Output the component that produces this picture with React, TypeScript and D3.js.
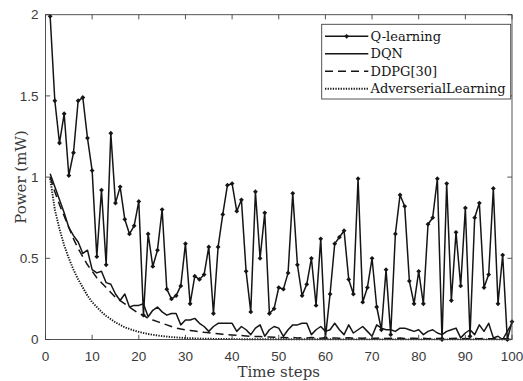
import React from "react";
import * as d3 from "d3";

const steps: number[] = Array.from({ length: 100 }, (_, i) => i + 1);

const qLearning: number[] = [
  1.99, 1.47, 1.21, 1.39, 1.01, 1.15, 1.47, 1.49, 1.24, 1.04,
  0.51, 0.92, 0.46, 1.27, 0.84, 0.94, 0.74, 0.65, 0.70, 0.85,
  0.15, 0.65, 0.45, 0.55, 0.80, 0.31, 0.25, 0.27, 0.33, 0.59,
  0.22, 0.39, 0.37, 0.40, 0.57, 0.16, 0.57, 0.77, 0.95, 0.96,
  0.79, 0.86, 0.42, 0.17, 0.91, 0.50, 0.78, 0.16, 0.19, 0.32,
  0.31, 0.41, 0.90, 0.46, 0.27, 0.34, 0.50, 0.21, 0.62, 0.01,
  0.28, 0.59, 0.63, 0.67, 0.37, 0.28, 0.99, 0.23, 0.32, 0.50,
  0.20, 0.06, 0.43, 0.03, 0.65, 0.89, 0.82, 0.36, 0.22, 0.42,
  0.22, 0.71, 0.75, 0.99, 0.00, 0.96, 0.24, 0.66, 0.33, 0.81,
  0.02, 0.75, 0.84, 0.32, 0.40, 0.93, 0.22, 0.52, 0.00, 0.11,
];

const dqn: number[] = [
  1.02, 0.94, 0.86, 0.78, 0.69, 0.64, 0.60, 0.53, 0.55, 0.43,
  0.41, 0.42, 0.35, 0.34, 0.28, 0.24, 0.28, 0.20, 0.21, 0.21,
  0.22, 0.14, 0.18, 0.20, 0.17, 0.15, 0.16, 0.16, 0.09, 0.12,
  0.12, 0.13, 0.10, 0.08, 0.05, 0.08, 0.10, 0.10, 0.10, 0.10,
  0.05, 0.08, 0.06, 0.03, 0.07, 0.09, 0.02, 0.06, 0.08, 0.07,
  0.02, 0.06, 0.09, 0.09, 0.10, 0.10, 0.03, 0.06, 0.08, 0.05,
  0.06, 0.10, 0.06, 0.03, 0.09, 0.04, 0.06, 0.08, 0.05, 0.02,
  0.09, 0.07, 0.06, 0.06, 0.05, 0.07, 0.07, 0.06, 0.05, 0.06,
  0.03, 0.05, 0.06, 0.04, 0.03, 0.05, 0.06, 0.07, 0.01, 0.04,
  0.06, 0.03, 0.09, 0.05, 0.10, 0.01, 0.02, 0.00, 0.05, 0.10,
];

const ddpg: number[] = [
  1.00, 0.91, 0.83, 0.76, 0.69, 0.62, 0.56, 0.51, 0.46, 0.42,
  0.38, 0.35, 0.32, 0.29, 0.26, 0.24, 0.22, 0.20, 0.18, 0.16,
  0.15, 0.13, 0.12, 0.11, 0.10, 0.09, 0.08, 0.07, 0.065, 0.06,
  0.056, 0.052, 0.048, 0.044, 0.041, 0.038, 0.035, 0.032, 0.030, 0.028,
  0.026, 0.024, 0.022, 0.020, 0.019, 0.018, 0.016, 0.015, 0.014, 0.013,
  0.012, 0.011, 0.013, 0.010, 0.011, 0.009, 0.012, 0.010, 0.008, 0.011,
  0.009, 0.010, 0.008, 0.009, 0.011, 0.007, 0.009, 0.008, 0.010, 0.007,
  0.008, 0.009, 0.006, 0.008, 0.007, 0.009, 0.006, 0.007, 0.008, 0.006,
  0.007, 0.005, 0.008, 0.006, 0.007, 0.005, 0.006, 0.007, 0.005, 0.006,
  0.004, 0.006, 0.005, 0.007, 0.004, 0.005, 0.006, 0.004, 0.005, 0.004,
];

const adversarial: number[] = [
  0.99, 0.80, 0.68, 0.58, 0.50, 0.43, 0.37, 0.32, 0.27, 0.23,
  0.20, 0.17, 0.145, 0.125, 0.105, 0.09, 0.075, 0.065, 0.055, 0.047,
  0.040, 0.034, 0.029, 0.025, 0.021, 0.018, 0.015, 0.013, 0.011, 0.009,
  0.008, 0.007, 0.006, 0.005, 0.0045, 0.004, 0.0035, 0.003, 0.003, 0.0025,
  0.0025, 0.002, 0.002, 0.002, 0.002, 0.0018, 0.0018, 0.0016, 0.0016, 0.0015,
  0.0015, 0.0014, 0.0014, 0.0013, 0.0013, 0.0012, 0.0012, 0.0012, 0.0011, 0.0011,
  0.0011, 0.001, 0.001, 0.001, 0.001, 0.001, 0.001, 0.001, 0.001, 0.001,
  0.001, 0.001, 0.001, 0.001, 0.001, 0.001, 0.001, 0.001, 0.001, 0.001,
  0.001, 0.001, 0.001, 0.001, 0.001, 0.001, 0.001, 0.001, 0.001, 0.001,
  0.001, 0.001, 0.001, 0.001, 0.001, 0.001, 0.001, 0.001, 0.001, 0.001,
];

const xTicks: number[] = [0, 10, 20, 30, 40, 50, 60, 70, 80, 90, 100];
const yTicks: number[] = [0, 0.5, 1, 1.5, 2];
const yTickLabels: string[] = ["0", "0.5", "1", "1.5", "2"];
const seriesNames: string[] = ["Q-learning", "DQN", "DDPG[30]", "AdverserialLearning"];

const W = 523;
const H = 381;
const L = 45.5;
const R = 512;
const T = 14.7;
const B = 339.5;

export default function App() {
  const x = d3.scaleLinear().domain([0, 100]).range([L, R]);
  const y = d3.scaleLinear().domain([0, 2]).range([B, T]);
  const line = (vals: number[]) =>
    d3.line<number>().x((_, i) => x(steps[i])).y((v) => y(v))(vals) || "";

  const ink = "#151515";
  const axisC = "#404040";
  const tickC = "#3a3a3a";
  const diamond = (cx: number, cy: number, s = 2.4) =>
    `M${cx},${cy - s}L${cx + s},${cy}L${cx},${cy + s}L${cx - s},${cy}Z`;

  const legendX0 = 325;
  const legendX1 = 368.3;
  const legendRows = [36.3, 53.8, 71.3, 88.8];
  const styles = [
    { dash: undefined as string | undefined, w: 1.5 },
    { dash: undefined as string | undefined, w: 1.5 },
    { dash: "8,5", w: 1.5 },
    { dash: "1.3,1.3", w: 1.9 },
  ];

  return (
    <svg
      width={W}
      height={H}
      style={{ position: "absolute", left: 0, top: 0, background: "#fff" }}
    >
      <rect x={0} y={0} width={W} height={H} fill="#fff" />
      <defs>
        <clipPath id="plot">
          <rect x={L - 3} y={T - 3} width={R - L + 6} height={B - T + 6} />
        </clipPath>
      </defs>
      <g clipPath="url(#plot)">
        {[adversarial, ddpg, dqn].map((vals, k) => {
          const st = styles[3 - k];
          return (
            <path
              key={k}
              d={line(vals)}
              fill="none"
              stroke={ink}
              strokeWidth={st.w}
              strokeDasharray={st.dash}
              strokeLinejoin="round"
            />
          );
        })}
        <path d={line(qLearning)} fill="none" stroke={ink} strokeWidth={1.5} strokeLinejoin="round" />
        {qLearning.map((v, i) => (
          <path key={i} d={diamond(x(steps[i]), y(v))} fill={ink} />
        ))}
      </g>
      <rect x={L} y={T} width={R - L} height={B - T} fill="none" stroke={axisC} strokeWidth={0.9} />
      {xTicks.map((t) => (
        <g key={"x" + t}>
          <line x1={x(t)} x2={x(t)} y1={B} y2={B - 4.7} stroke={axisC} strokeWidth={0.9} />
          <line x1={x(t)} x2={x(t)} y1={T} y2={T + 4.7} stroke={axisC} strokeWidth={0.9} />
          <text
            x={x(t)}
            y={360.5}
            textAnchor="middle"
            fontFamily="'Liberation Sans', Arial, sans-serif"
            fontSize={13.5}
            fill={tickC}
          >
            {t}
          </text>
        </g>
      ))}
      {yTicks.map((t, i) => (
        <g key={"y" + t}>
          <line x1={L} x2={L + 4.7} y1={y(t)} y2={y(t)} stroke={axisC} strokeWidth={0.9} />
          <line x1={R} x2={R - 4.7} y1={y(t)} y2={y(t)} stroke={axisC} strokeWidth={0.9} />
          <text
            x={38.5}
            y={y(t) + 4.7}
            textAnchor="end"
            fontFamily="'Liberation Sans', Arial, sans-serif"
            fontSize={13.5}
            fill={tickC}
          >
            {yTickLabels[i]}
          </text>
        </g>
      ))}
      <text
        x={(L + R) / 2}
        y={376.5}
        textAnchor="middle"
        fontFamily="'DejaVu Serif', serif"
        fontSize={15}
        fill={tickC}
      >
        Time steps
      </text>
      <text
        transform={`translate(26,${(T + B) / 2}) rotate(-90)`}
        textAnchor="middle"
        fontFamily="'DejaVu Serif', serif"
        fontSize={15}
        fill={tickC}
      >
        Power (mW)
      </text>
      <rect x={321.7} y={24.3} width={189} height={74.7} fill="#fff" stroke={axisC} strokeWidth={0.9} />
      {seriesNames.map((name, i) => {
        const cy = legendRows[i];
        const st = styles[i];
        return (
          <g key={name}>
            <line
              x1={legendX0}
              x2={legendX1}
              y1={cy}
              y2={cy}
              stroke={ink}
              strokeWidth={st.w}
              strokeDasharray={st.dash}
            />
            {i === 0 && <path d={diamond((legendX0 + legendX1) / 2, cy)} fill={ink} />}
            <text
              x={370.5}
              y={cy + 4.5}
              fontFamily="'DejaVu Serif', serif"
              fontSize={13}
              fill={ink}
            >
              {name}
            </text>
          </g>
        );
      })}
    </svg>
  );
}
